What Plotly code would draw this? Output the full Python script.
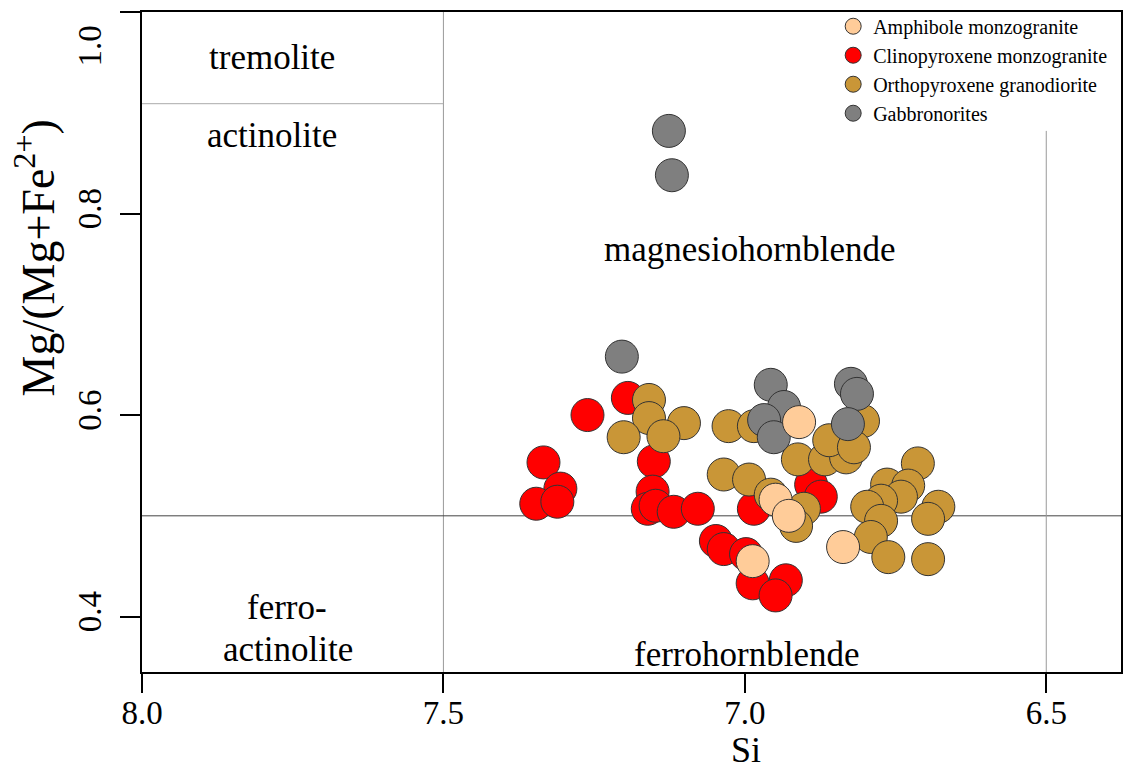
import plotly.graph_objects as go

# ---- data (Si, Mg/(Mg+Fe2+)) ----
amph_si = [6.910, 6.949, 6.927, 6.987, 6.837]
amph_mg = [0.593, 0.516, 0.500, 0.455, 0.469]

clino_si = [7.261, 7.194, 7.334, 7.306, 7.346, 7.311, 7.151, 7.153, 7.161, 7.148,
            7.118, 7.078, 7.048, 7.035, 6.998, 6.987, 6.932, 6.949, 6.985, 6.890, 6.874]
clino_mg = [0.600, 0.617, 0.553, 0.527, 0.512, 0.514, 0.554, 0.524, 0.507, 0.510,
            0.504, 0.507, 0.475, 0.467, 0.462, 0.433, 0.436, 0.421, 0.507, 0.531, 0.519]

ortho_si = [7.159, 7.159, 7.101, 7.201, 7.135, 7.027, 6.985, 7.035, 6.993, 6.957,
            6.912, 6.867, 6.832, 6.860, 6.804, 6.819, 6.902, 6.915, 6.713, 6.764,
            6.729, 6.741, 6.774, 6.797, 6.679, 6.696, 6.774, 6.791, 6.762, 6.696]
ortho_mg = [0.615, 0.597, 0.592, 0.578, 0.579, 0.589, 0.589, 0.541, 0.536, 0.521,
            0.556, 0.556, 0.558, 0.575, 0.594, 0.568, 0.507, 0.490, 0.552, 0.531,
            0.530, 0.519, 0.515, 0.509, 0.509, 0.497, 0.495, 0.479, 0.459, 0.457]

gabbro_si = [7.126, 7.121, 7.204, 6.957, 6.935, 6.968, 6.952, 6.824, 6.814, 6.829]
gabbro_mg = [0.882, 0.838, 0.658, 0.630, 0.608, 0.595, 0.578, 0.631, 0.621, 0.591]

series_names = ["Amphibole monzogranite", "Clinopyroxene monzogranite",
                "Orthopyroxene granodiorite", "Gabbronorites"]
x_ticks = [8.0, 7.5, 7.0, 6.5]
x_ticktext = ["8.0", "7.5", "7.0", "6.5"]
y_ticks = [0.4, 0.6, 0.8]
y_ticktext = ["0.4", "0.6", "0.8"]
y_top_tick = [1.0]

FONT = "Liberation Serif, Times New Roman, serif"
MSIZE = 33
LINE = dict(color="#333333", width=1)

fig = go.Figure()
# draw order: red, gold, gray, peach (top)
fig.add_trace(go.Scatter(x=clino_si, y=clino_mg, mode="markers", name=series_names[1],
                         legendrank=2,
                         marker=dict(size=MSIZE, color="#FF0000", line=LINE)))
fig.add_trace(go.Scatter(x=ortho_si, y=ortho_mg, mode="markers", name=series_names[2],
                         legendrank=3,
                         marker=dict(size=MSIZE, color="#C99637", line=LINE)))
fig.add_trace(go.Scatter(x=gabbro_si, y=gabbro_mg, mode="markers", name=series_names[3],
                         legendrank=4,
                         marker=dict(size=MSIZE, color="#7F7F7F", line=LINE)))
fig.add_trace(go.Scatter(x=amph_si, y=amph_mg, mode="markers", name=series_names[0],
                         legendrank=1,
                         marker=dict(size=MSIZE, color="#FFCC99", line=LINE)))

XMIN, XMAX = 8.0, 6.376
YMIN, YMAX = 0.345, 1.0

shapes = [
    dict(type="line", x0=7.5, x1=7.5, y0=YMIN, y1=YMAX, line=dict(color="#999999", width=1)),
    dict(type="line", x0=8.0, x1=7.5, y0=0.909, y1=0.909, line=dict(color="#aaaaaa", width=1)),
    dict(type="line", x0=8.0, x1=XMAX, y0=0.5, y1=0.5, line=dict(color="#444444", width=1)),
    dict(type="line", x0=6.5, x1=6.5, y0=YMIN, y1=0.882, line=dict(color="#999999", width=1)),
]
for s in shapes:
    s["xref"] = "x"; s["yref"] = "y"; s["layer"] = "below"

ann_font = dict(family=FONT, size=35, color="black")
annotations = [
    dict(x=7.785, y=0.955, text="tremolite"),
    dict(x=7.785, y=0.877, text="actinolite"),
    dict(x=6.992, y=0.764, text="magnesiohornblende"),
    dict(x=7.760, y=0.409, text="ferro-"),
    dict(x=7.757, y=0.367, text="actinolite"),
    dict(x=6.998, y=0.362, text="ferrohornblende"),
]
for a in annotations:
    a.update(xref="x", yref="y", showarrow=False, font=ann_font,
             xanchor="center", yanchor="middle")

annotations += [
    dict(xref="paper", yref="paper", x=-0.109, y=0.627, text="Mg/(Mg+Fe<sup>2+</sup>)",
         textangle=-90, showarrow=False, font=dict(family=FONT, size=46, color="black"),
         xanchor="center", yanchor="middle"),
    dict(xref="paper", yref="paper", x=0.6165, y=-0.1515, text="Si",
         showarrow=False, font=dict(family=FONT, size=36, color="black"),
         xanchor="center", yanchor="bottom"),
    dict(xref="paper", yref="paper", x=-0.0535, y=0.9485, text="1.0",
         textangle=-90, showarrow=False, font=dict(family=FONT, size=33, color="black"),
         xanchor="center", yanchor="middle"),
]

fig.update_layout(
    width=1127, height=772,
    margin=dict(l=142, r=4, t=12, b=100),
    paper_bgcolor="white", plot_bgcolor="white",
    font=dict(family=FONT, color="black"),
    showlegend=True,
    legend=dict(x=0.706, y=1.008, xanchor="left", yanchor="top",
                font=dict(family=FONT, size=20, color="black"),
                bgcolor="rgba(0,0,0,0)", borderwidth=0, itemsizing="trace",
                tracegroupgap=0),
    shapes=shapes,
    annotations=annotations,
    xaxis=dict(range=[XMIN, XMAX], tickvals=x_ticks, ticktext=x_ticktext,
               showgrid=False, zeroline=False, showline=True, linecolor="black",
               linewidth=2, mirror=True, ticks="outside", ticklen=19, tickwidth=2,
               tickcolor="black", ticklabelstandoff=-9,
               tickfont=dict(family=FONT, size=33, color="black")),
    yaxis=dict(range=[YMIN, YMAX], tickvals=y_ticks, ticktext=y_ticktext,
               showgrid=False, zeroline=False, showline=True, linecolor="black",
               linewidth=2, mirror=True, ticks="outside", ticklen=20, tickwidth=2,
               tickcolor="black", tickangle=-90, ticklabelstandoff=6,
               tickfont=dict(family=FONT, size=33, color="black"),
               minor=dict(tickvals=y_top_tick, ticks="outside", ticklen=20,
                          tickwidth=2, tickcolor="black", showgrid=False)),
)

fig.write_html("out.html")
